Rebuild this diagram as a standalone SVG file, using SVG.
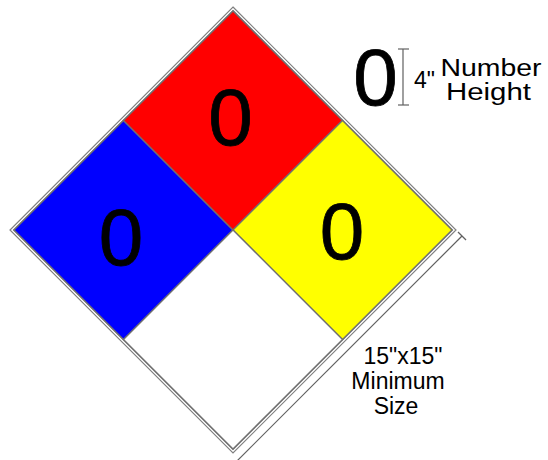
<svg xmlns="http://www.w3.org/2000/svg" width="548" height="460" viewBox="0 0 548 460">
<style>
.q{stroke:#707070;stroke-width:1.3}
.b{fill:none;stroke:#808080;stroke-width:1.2}
.n{font-family:"Liberation Sans",Arial,sans-serif;font-size:80px;fill:#000;text-anchor:middle;stroke:#000;stroke-width:0.8}
.t{font-family:"Liberation Sans",Arial,sans-serif;font-size:23px;fill:#000;text-anchor:middle}
.d{fill:none;stroke:#606060;stroke-width:1.2}
</style>
<rect width="548" height="460" fill="#fff"/>
<g id="border">
<polygon class="b" points="233,7 456,230 233,453 10,230"/>
<polygon class="b" points="233,10.5 452.5,230 233,449.5 13.5,230"/>
</g>
<g id="health">
<polygon class="q" fill="#0000FF" points="123.5,120.5 233,230 123.5,339.5 14,230"/>
<text class="n" x="121" y="265">0</text>
</g>
<g id="flammability">
<polygon class="q" fill="#FF0000" points="233,11 342.5,120.5 233,230 123.5,120.5"/>
<text class="n" x="230.5" y="145">0</text>
</g>
<g id="instability">
<polygon class="q" fill="#FFFF00" points="342.5,120.5 452,230 342.5,339.5 233,230"/>
<text class="n" x="342" y="259">0</text>
</g>
<g id="special">
<polygon class="q" fill="#FFFFFF" points="233,230 342.5,339.5 233,449 123.5,339.5"/>
</g>
<g id="connectors">
<line class="d" x1="462" y1="236" x2="234" y2="464"/>
<line class="d" x1="458" y1="232" x2="466" y2="240"/>
<line class="d" x1="403" y1="49" x2="403" y2="105"/>
<line class="d" x1="398" y1="49" x2="409" y2="49"/>
<line class="d" x1="398" y1="105" x2="409" y2="105"/>
</g>
<g id="legend">
<text class="n" x="375.5" y="105" stroke-width="0.5">0</text>
<text class="t" x="424.5" y="88" font-size="28">4"</text>
<text class="t" x="491" y="76" textLength="101" lengthAdjust="spacingAndGlyphs">Number</text>
<text class="t" x="488.5" y="100" textLength="85" lengthAdjust="spacingAndGlyphs">Height</text>
</g>
<g id="size-label">
<text class="t" x="403" y="364" font-size="24">15"x15"</text>
<text class="t" x="398" y="389" font-size="24">Minimum</text>
<text class="t" x="396" y="414" font-size="24">Size</text>
</g>
</svg>
